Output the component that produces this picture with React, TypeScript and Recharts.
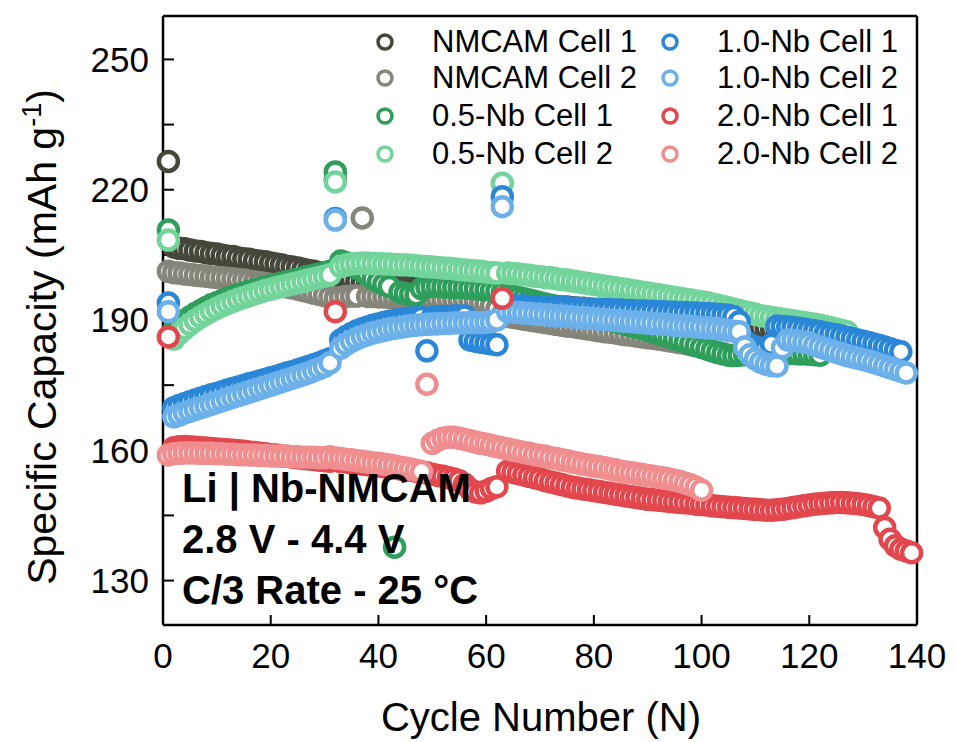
import React from 'react';
import { ScatterChart, Scatter, XAxis, YAxis, Legend, Label } from 'recharts';

// specific capacity (mAh g-1) per cycle, first value = cycle 1, ten cycles per row
const nmcamCell1 = [
  226.5, 206.8, 206.5, 206.4, 206.1, 205.9, 205.8, 205.5, 205.3, 205.2,
  204.9, 204.7, 204.6, 204.3, 204.1, 204.0, 203.7, 203.5, 203.4, 203.1,
  202.9, 202.7, 202.4, 202.2, 202.0, 201.7, 201.4, 201.2, 200.9, 200.6,
  200.4, 222.3, 200.0, 199.6, 199.3, 199.0, 198.8, 198.6, 198.4, 198.3,
  198.1, 198.0, 197.8, 197.7, 197.5, 197.4, 197.3, 197.1, 197.0, 196.9,
  196.7, 196.6, 196.5, 196.3, 196.2, 196.1, 195.9, 195.8, 195.7, 195.5,
  195.4, 195.3, 195.1, 194.0, 193.9, 193.9, 193.7, 193.6, 193.6, 193.4,
  193.3, 193.3, 193.1, 193.0, 193.0, 192.8, 192.7, 192.7, 192.5, 192.4,
  192.4, 192.2, 192.1, 192.1, 191.9, 191.8, 191.8, 191.6, 191.5, 191.5,
  191.3, 191.2, 191.2, 191.0, 190.9, 190.8, 190.6, 190.4, 190.2, 190.0,
  189.8, 189.6, 189.4, 189.2, 189.0, 188.8, 188.6, 188.5, 188.4, 188.3,
  188.2, 188.1, 188.0, 187.9, 187.8, 187.7, 187.6, 187.5, 187.4, 187.3,
  187.2, 187.1, 187.0, 186.9,
];

const nmcamCell2 = [
  201.2, 200.9, 200.8, 200.6, 200.5, 200.3, 200.2, 200.1, 199.9, 199.8,
  199.7, 199.6, 199.5, 199.3, 199.2, 199.0, 198.8, 198.6, 198.4, 198.2,
  198.0, 197.8, 197.6, 197.4, 197.1, 196.8, 196.5, 196.2, 195.9, 195.6,
  195.3, 195.0, 195.2, 195.4, 195.5, 195.5, 213.5, 195.4, 195.4, 195.3,
  195.3, 195.2, 195.2, 195.1, 195.1, 195.0, 195.0, 194.9, 194.9, 194.8,
  194.8, 194.7, 194.7, 194.6, 194.6, 194.5, 194.4, 194.3, 194.1, 193.8,
  193.3, 192.5, 191.2, 190.8, 190.6, 190.4, 190.2, 190.0, 189.8, 189.6,
  189.4, 189.2, 189.0, 188.8, 188.6, 188.5, 188.3, 188.1, 187.9, 187.7,
  187.5, 187.3, 187.2, 187.0, 186.8, 186.6, 186.5, 186.3, 186.1, 185.9,
  185.8, 185.6, 185.4, 185.2, 185.0, 184.8, 184.6, 184.3, 184.1,
];

const nb05Cell1 = [
  210.7, 187.6, 188.8, 189.8, 190.7, 191.5, 192.2, 192.9, 193.5, 194.0,
  194.5, 195.0, 195.4, 195.8, 196.2, 196.6, 196.9, 197.3, 197.6, 197.9,
  198.2, 198.5, 198.8, 199.1, 199.4, 199.7, 200.0, 200.3, 200.6, 200.9,
  201.2, 224.1, 203.6, 203.2, 202.6, 201.9, 201.1, 200.3, 199.5, 198.8,
  198.2, 197.7, 137.7, 196.4, 196.1, 195.9, 195.8, 197.2, 197.6, 197.7,
  197.7, 197.6, 197.6, 197.5, 197.5, 197.4, 197.3, 197.2, 197.1, 197.0,
  196.8, 196.6, 196.3, 195.8, 195.5, 195.2, 194.9, 194.6, 194.3, 194.0,
  193.7, 193.4, 193.1, 192.8, 192.5, 192.2, 191.9, 191.6, 191.3, 191.0,
  190.6, 190.3, 190.0, 189.6, 189.3, 189.0, 188.6, 188.3, 188.0, 187.6,
  187.3, 186.9, 186.5, 186.1, 185.7, 185.3, 184.9, 184.5, 184.1, 183.7,
  183.3, 182.9, 182.5, 182.2, 181.9, 181.8, 181.9, 182.0, 182.0, 182.1,
  182.1, 182.2, 182.2, 182.2, 182.3, 182.3, 182.3, 182.2, 182.2, 182.1,
  182.0, 181.9,
];

const nb05Cell2 = [
  208.4, 185.6, 186.9, 188.0, 189.0, 189.9, 190.7, 191.4, 192.1, 192.7,
  193.3, 193.8, 194.3, 194.8, 195.2, 195.6, 196.0, 196.4, 196.8, 197.1,
  197.4, 197.7, 198.0, 198.3, 198.6, 198.9, 199.2, 199.5, 199.8, 200.1,
  200.4, 221.8, 202.3, 202.7, 202.9, 203.0, 203.1, 203.1, 203.0, 203.0,
  202.9, 202.9, 202.8, 202.7, 202.7, 202.6, 202.5, 202.4, 202.3, 202.2,
  202.1, 202.0, 201.9, 201.8, 201.6, 201.5, 201.4, 201.3, 201.2, 201.0,
  200.9, 200.8, 221.5, 200.8, 200.7, 200.6, 200.4, 200.3, 200.1, 200.0,
  199.8, 199.7, 199.5, 199.3, 199.2, 199.0, 198.8, 198.6, 198.4, 198.2,
  198.0, 197.8, 197.6, 197.4, 197.2, 197.0, 196.8, 196.6, 196.4, 196.2,
  196.0, 195.8, 195.6, 195.4, 195.2, 195.0, 194.8, 194.6, 194.4, 194.2,
  194.0, 193.7, 193.4, 193.1, 192.8, 192.5, 192.2, 191.9, 191.6, 191.3,
  191.0, 190.8, 190.6, 190.4, 190.2, 190.0, 189.8, 189.6, 189.4, 189.2,
  189.0, 188.8, 188.5, 188.2, 187.9, 187.6, 187.3,
];

const nb10Cell1 = [
  193.9, 169.8, 170.3, 170.7, 171.2, 171.6, 172.0, 172.4, 172.8, 173.1,
  173.5, 173.9, 174.2, 174.6, 174.9, 175.3, 175.6, 176.0, 176.3, 176.7,
  177.0, 177.4, 177.8, 178.1, 178.5, 178.9, 179.3, 179.7, 180.1, 180.6,
  181.1, 213.4, 185.4, 186.2, 186.9, 187.5, 188.0, 188.4, 188.8, 189.1,
  189.4, 189.7, 189.9, 190.1, 190.3, 190.4, 190.5, 190.6, 182.9, 190.6,
  190.7, 190.8, 190.8, 190.9, 190.9, 190.9, 185.4, 185.1, 184.9, 184.7,
  184.5, 184.3, 218.4, 193.3, 193.3, 193.2, 193.2, 193.1, 193.1, 193.0,
  193.0, 192.9, 192.9, 192.8, 192.8, 192.7, 192.7, 192.6, 192.6, 192.5,
  192.5, 192.4, 192.4, 192.3, 192.3, 192.2, 192.2, 192.1, 192.1, 192.0,
  192.0, 191.9, 191.9, 191.8, 191.8, 191.7, 191.7, 191.6, 191.6, 191.5,
  191.5, 191.4, 191.3, 191.2, 191.1, 190.8, 189.6, 185.2, 184.3, 183.8,
  183.5, 183.6, 184.4, 188.6, 188.5, 188.4, 188.3, 188.1, 187.9, 187.7,
  187.5, 187.3, 187.0, 186.8, 186.6, 186.3, 186.0, 185.7, 185.4, 185.1,
  184.8, 184.5, 184.1, 183.8, 183.4, 183.0, 182.7,
];

const nb10Cell2 = [
  191.9, 167.7, 168.1, 168.6, 169.0, 169.4, 169.8, 170.2, 170.6, 171.0,
  171.4, 171.8, 172.2, 172.6, 173.0, 173.4, 173.8, 174.2, 174.6, 175.0,
  175.4, 175.8, 176.2, 176.6, 177.0, 177.4, 177.8, 178.3, 178.8, 179.3,
  180.1, 213.0, 183.5, 184.4, 185.1, 185.7, 186.2, 186.6, 187.0, 187.3,
  187.6, 187.9, 188.1, 188.3, 188.5, 188.7, 188.8, 188.9, 189.0, 189.1,
  189.1, 189.2, 189.2, 189.3, 189.3, 189.3, 189.4, 189.4, 189.4, 189.5,
  189.6, 190.0, 216.1, 191.9, 191.8, 191.7, 191.6, 191.5, 191.4, 191.3,
  191.2, 191.1, 191.0, 190.9, 190.8, 190.7, 190.6, 190.5, 190.4, 190.3,
  190.2, 190.1, 190.0, 189.9, 189.8, 189.7, 189.6, 189.5, 189.4, 189.3,
  189.2, 189.1, 189.0, 188.9, 188.8, 188.7, 188.6, 188.5, 188.4, 188.3,
  188.2, 188.1, 188.0, 187.8, 187.6, 187.4, 187.3, 183.8, 182.0, 181.0,
  180.3, 179.8, 179.5, 179.4, 183.6, 185.4, 185.3, 185.1, 184.9, 184.7,
  184.2, 183.8, 183.4, 183.0, 182.6, 182.2, 181.8, 181.5, 181.2, 180.9,
  180.6, 180.2, 179.8, 179.4, 179.0, 178.6, 178.2, 177.8,
];

const nb20Cell1 = [
  186.1, 160.6, 160.8, 160.9, 160.8, 160.7, 160.6, 160.5, 160.4, 160.3,
  160.2, 160.1, 160.0, 159.9, 159.8, 159.6, 159.5, 159.3, 159.2, 159.0,
  158.9, 158.7, 158.6, 158.4, 158.3, 158.1, 158.0, 157.9, 157.7, 157.6,
  157.5, 191.9, 157.4, 157.3, 157.1, 157.0, 156.8, 156.7, 156.5, 156.4,
  156.2, 156.1, 155.9, 155.7, 155.6, 155.4, 155.2, 155.0, 154.8, 154.5,
  154.2, 154.0, 153.7, 153.4, 153.0, 152.2, 151.0, 150.4, 150.2, 150.6,
  151.2, 151.6, 195.0, 155.2, 154.9, 154.6, 154.3, 154.0, 153.7, 153.4,
  153.0, 152.7, 152.4, 152.1, 151.8, 151.5, 151.3, 151.1, 150.9, 150.7,
  150.5, 150.3, 150.1, 149.9, 149.7, 149.5, 149.3, 149.1, 148.9, 148.7,
  148.6, 148.5, 148.4, 148.2, 148.1, 148.0, 147.9, 147.8, 147.6, 147.5,
  147.4, 147.2, 147.1, 147.0, 146.9, 146.8, 146.7, 146.6, 146.5, 146.4,
  146.3, 146.2, 146.2, 146.3, 146.4, 146.6, 146.8, 147.0, 147.2, 147.4,
  147.6, 147.7, 147.8, 147.9, 148.0, 148.0, 147.9, 147.8, 147.7, 147.5,
  147.3, 147.0, 146.7, 142.2, 139.5, 138.0, 137.2, 136.8, 136.4,
];

const nb20Cell2 = [
  158.9, 159.2, 159.3, 159.4, 159.4, 159.4, 159.3, 159.3, 159.3, 159.2,
  159.2, 159.1, 159.1, 159.0, 159.0, 158.9, 158.9, 158.8, 158.8, 158.7,
  158.7, 158.6, 158.6, 158.5, 158.5, 158.4, 158.4, 158.4, 158.3, 158.3,
  158.5, 158.2, 158.1, 157.9, 157.8, 157.6, 157.5, 157.3, 157.1, 157.0,
  156.8, 156.6, 156.4, 156.1, 155.9, 155.7, 155.4, 155.1, 175.2, 161.6,
  162.3, 162.8, 163.0, 163.0, 162.8, 162.5, 162.2, 161.9, 161.6, 161.4,
  161.1, 160.8, 160.6, 160.3, 160.0, 159.8, 159.5, 159.3, 159.0, 158.8,
  158.6, 158.3, 158.1, 157.8, 157.6, 157.3, 157.1, 156.8, 156.6, 156.4,
  156.2, 156.0, 155.7, 155.5, 155.2, 155.0, 154.8, 154.6, 154.4, 154.2,
  154.0, 153.8, 153.6, 153.4, 153.1, 152.8, 152.4, 152.0, 151.5, 150.8,
];

const seriesNames = [
  'NMCAM Cell 1', 'NMCAM Cell 2', '0.5-Nb Cell 1', '0.5-Nb Cell 2',
  '1.0-Nb Cell 1', '1.0-Nb Cell 2', '2.0-Nb Cell 1', '2.0-Nb Cell 2',
];
const seriesColors = [
  '#46473b', '#85857a', '#2e9e5b', '#72d49b',
  '#2a87d8', '#6cb0ea', '#e2474d', '#ef8d8f',
];
const seriesValues = [
  nmcamCell1, nmcamCell2, nb05Cell1, nb05Cell2,
  nb10Cell1, nb10Cell2, nb20Cell1, nb20Cell2,
];

const xTicks = [0, 20, 40, 60, 80, 100, 120, 140];
const xMinorTicks = [10, 30, 50, 70, 90, 110, 130];
const yTicks = [130, 145, 160, 175, 190, 205, 220, 235, 250];
const yLabelled = [130, 160, 190, 220, 250];

const noteLines = ['Li | Nb-NMCAM', '2.8 V - 4.4 V', 'C/3 Rate - 25 °C'];

const FONT = '"Liberation Sans", Arial, Helvetica, sans-serif';
const AXIS_STROKE = { stroke: '#000', strokeWidth: 2.5 };
const TICK_STROKE = { stroke: '#000', strokeWidth: 2 };

const W = 955;
const H = 742;

const series = seriesNames.map((name, i) => ({
  name,
  color: seriesColors[i],
  data: seriesValues[i].map((cap, k) => ({ cycle: k + 1, cap })),
}));

const ring = (color: string) => (props: any) => (
  <circle cx={props.cx} cy={props.cy} r={9.5} fill="#fff" stroke={color} strokeWidth={4.5} />
);

const XTitle = () => (
  <text x={541} y={731} textAnchor="middle" fontSize={40} fontFamily={FONT} fill="#000">
    Cycle Number (N)
  </text>
);

const YTitle = () => (
  <text
    x={56}
    y={337}
    transform="rotate(-90 56 337)"
    textAnchor="middle"
    fontSize={41}
    fontFamily={FONT}
    fill="#000"
  >
    Specific Capacity (mAh g
    <tspan dy={-15} fontSize={27}>-1</tspan>
    <tspan dy={15}>)</tspan>
  </text>
);

// two columns of four, like the original box legend
const LEGEND_COL_X = [372, 657];
const LEGEND_ROW_Y = [42, 78, 116, 154];

const renderLegend = () => (
  <div style={{ position: 'relative', width: W, height: 180, fontFamily: FONT }}>
    {series.map((s, i) => (
      <div
        key={s.name}
        style={{
          position: 'absolute',
          left: LEGEND_COL_X[Math.floor(i / 4)],
          top: LEGEND_ROW_Y[i % 4] - 20,
          height: 40,
          display: 'flex',
          alignItems: 'center',
          whiteSpace: 'nowrap',
        }}
      >
        <svg width={26} height={26}>
          <circle cx={13} cy={13} r={7} fill="#fff" stroke={s.color} strokeWidth={3.5} />
        </svg>
        <span style={{ marginLeft: 34, fontSize: 31, color: '#000' }}>{s.name}</span>
      </div>
    ))}
  </div>
);

export default function App() {
  return (
    <div style={{ position: 'absolute', left: 0, top: 0, width: W, height: H, background: '#fff' }}>
      <ScatterChart width={W} height={H} margin={{ top: 15, right: 37, bottom: 116, left: 162 }}>
        <XAxis
          xAxisId="x"
          type="number"
          dataKey="cycle"
          domain={[0, 140]}
          ticks={xTicks}
          interval={0}
          height={1}
          tickSize={-10}
          tickMargin={28}
          tick={{ fontSize: 35, fill: '#000', fontFamily: FONT }}
          tickLine={TICK_STROKE}
          axisLine={AXIS_STROKE}
        >
          <Label content={XTitle} />
        </XAxis>
        <XAxis
          xAxisId="minor"
          type="number"
          domain={[0, 140]}
          ticks={xMinorTicks}
          interval={0}
          allowDataOverflow
          height={1}
          tickSize={-5}
          tick={false}
          tickLine={TICK_STROKE}
          axisLine={false}
        />
        <XAxis
          xAxisId="top"
          orientation="top"
          type="number"
          domain={[0, 140]}
          allowDataOverflow
          height={1}
          tick={false}
          tickLine={false}
          axisLine={AXIS_STROKE}
        />
        <YAxis
          yAxisId="y"
          type="number"
          dataKey="cap"
          domain={[120, 260]}
          ticks={yTicks}
          interval={0}
          width={1}
          tickSize={-11}
          tickMargin={25}
          tickFormatter={(v: number) => (yLabelled.includes(v) ? String(v) : '')}
          tick={{ fontSize: 35, fill: '#000', fontFamily: FONT }}
          tickLine={TICK_STROKE}
          axisLine={AXIS_STROKE}
        >
          <Label content={YTitle} />
        </YAxis>
        <YAxis
          yAxisId="right"
          orientation="right"
          type="number"
          domain={[120, 260]}
          ticks={yTicks}
          interval={0}
          allowDataOverflow
          width={1}
          tickSize={-11}
          tick={false}
          tickLine={TICK_STROKE}
          axisLine={AXIS_STROKE}
        />
        <Legend
          content={renderLegend}
          layout="vertical"
          align="center"
          verticalAlign="middle"
          wrapperStyle={{ left: 0, top: 0, width: W, height: 180, pointerEvents: 'none' }}
        />
        {series.map((s) => (
          <Scatter
            key={s.name}
            name={s.name}
            data={s.data}
            xAxisId="x"
            yAxisId="y"
            fill={s.color}
            stroke={s.color}
            shape={ring(s.color)}
            isAnimationActive={false}
          />
        ))}
      </ScatterChart>
      <svg
        width={W}
        height={H}
        style={{ position: 'absolute', left: 0, top: 0, pointerEvents: 'none' }}
      >
        {noteLines.map((t, i) => (
          <text key={t} x={182} y={502 + i * 51} fontSize={40} fontWeight="bold" fontFamily={FONT} fill="#000">
            {t}
          </text>
        ))}
      </svg>
    </div>
  );
}
